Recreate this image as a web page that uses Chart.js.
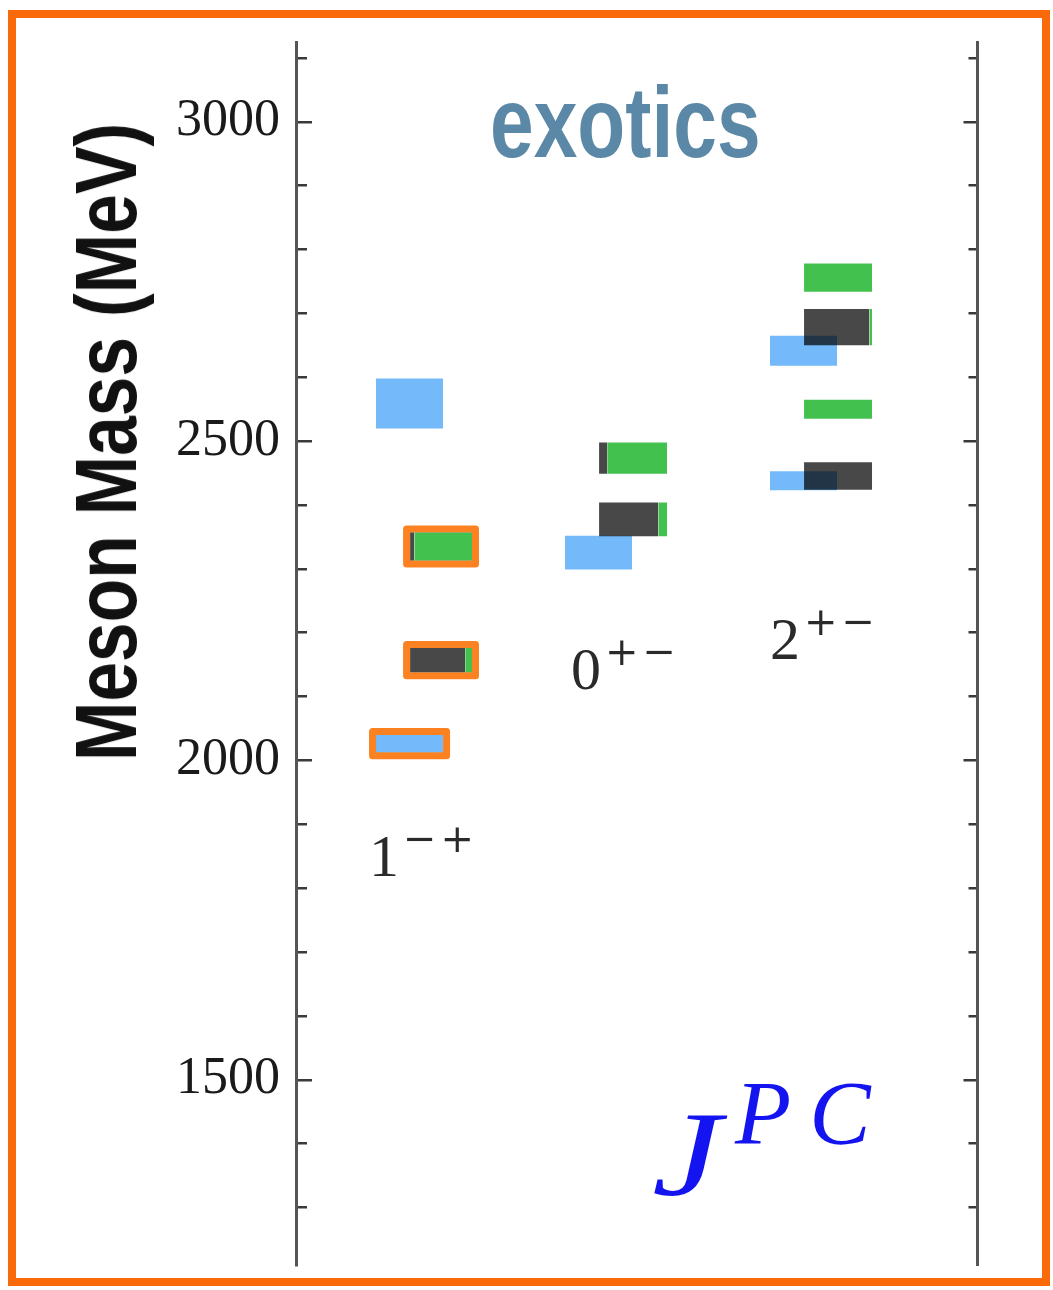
<!DOCTYPE html>
<html>
<head>
<meta charset="utf-8">
<script src="https://cdn.jsdelivr.net/npm/chart.js@4.4.1/dist/chart.umd.min.js"></script>
<style>
    html, body { margin: 0; padding: 0; background: #ffffff; }
    #wrap { position: relative; width: 1053px; height: 1290px; overflow: hidden; background: #ffffff; }
    #chart { position: absolute; left: 0; top: 0; }
    .frame { position: absolute; left: 8px; top: 10px; width: 1026px; height: 1260px; border: 8px solid #fa6a0a; }
    .txt { position: absolute; line-height: 1; white-space: nowrap; }
    .axis-title { left: 106px; top: 442px; font: bold 87px "Liberation Sans", Arial, sans-serif; color: #111;
                  transform: translate(-50%, -50%) rotate(-90deg) scaleX(0.82); }
    .exotics { left: 490px; top: 65px; font: bold 100px "Liberation Sans", Arial, sans-serif; color: #5b88a6;
               transform: scaleX(0.785); transform-origin: left top; }
    .jpc-col { font: 60px "Liberation Serif", "Times New Roman", serif; color: #2a2a2a; }
    .jpc-col .sup { position: relative; top: -24px; font: 40px "DejaVu Serif", serif; letter-spacing: 4px; margin-left: 4px; }
    .jpc-j { left: 652px; top: 1086px; font: italic 120px "Liberation Serif", "Times New Roman", serif; color: #1414f0;
             transform: scaleX(1.3); transform-origin: left top; }
    .jpc-pc { left: 735px; top: 1060px; font: italic 92px "Liberation Serif", "Times New Roman", serif; color: #1414f0; letter-spacing: 18px; }
</style>
</head>
<body>
<div id="wrap">
    <div class="frame"></div>
    <canvas id="chart" width="1053" height="1290"></canvas>
    <div class="txt axis-title">Meson Mass (MeV)</div>
    <div class="txt exotics">exotics</div>
    <div class="txt jpc-col" style="left:369px; top:822px">1<span class="sup">−+</span></div>
    <div class="txt jpc-col" style="left:571px; top:635px">0<span class="sup">+−</span></div>
    <div class="txt jpc-col" style="left:770px; top:605px">2<span class="sup">+−</span></div>
    <div class="txt jpc-j">J</div>
    <div class="txt jpc-pc">PC</div>
</div>
<script>
// Data -----------------------------------------------------------------------------------

// J^PC columns, left to right
const jpcColumns = ['1−+', '0+−', '2+−'];

// isovector states (light blue boxes), mass band in MeV
const isovectorColumn = [0, 0, 1, 2, 2];
const isovectorLow    = [2520, 2013, 2299, 2618, 2423];
const isovectorHigh   = [2598, 2040, 2352, 2665, 2453];
const isovectorMarked = [false, true, false, false, false];

// isoscalar states, box split into strange (dark) and light (green) content
const isoscalarColumn  = [0, 0, 1, 1, 2, 2, 2, 2];
const isoscalarLow     = [2313, 2138, 2449, 2351, 2734, 2650, 2535, 2424];
const isoscalarHigh    = [2357, 2176, 2498, 2404, 2778, 2707, 2565, 2467];
const isoscalarStrange = [0.07, 0.89, 0.12, 0.87, 0.0, 0.96, 0.0, 1.0];
const isoscalarMarked  = [true, true, false, false, false, false, false, false];

// mass axis
const MASS_MIN = 1210;
const MASS_MAX = 3125;
const MASS_STEP = 100;
const MASS_LABEL_STEP = 500;

// Layout ---------------------------------------------------------------------------------

const CANVAS_W = 1053;
const CANVAS_H = 1290;
const AREA_LEFT = 296;
const AREA_TOP = 42;
const AREA_RIGHT = 977;
const AREA_BOTTOM = 1265;

const X_MIN = 0;
const X_MAX = 10;
const COLUMN_LEFT = [1.175, 3.95, 6.96];
const ISOVECTOR_WIDTH = 0.985;
const ISOSCALAR_OFFSET = 0.5;
const ISOSCALAR_WIDTH = [0.91, 1.0, 1.0];

const OUTLINE_PAD_X = 0.051;
const OUTLINE_PAD_Y = 5.5;

const MAJOR_TICK = 14;
const MINOR_TICK = 9;

// Colours --------------------------------------------------------------------------------

const BLUE = '#74b9f9';
const GREEN = '#43c14f';
const DARK = '#484848';
const OUTLINE = '#fb8121';
const AXIS = '#555555';
const TICK = '#3a3a3a';

// Dataset builders -----------------------------------------------------------------------

let boxPiece = function (x0, x1, lo, hi, color) {
    return {
        type: 'line',
        data: [{x: x0, y: hi}, {x: x1, y: hi}],
        borderColor: 'rgba(0,0,0,0)',
        borderWidth: 0,
        pointRadius: 0,
        backgroundColor: color,
        fill: {value: lo},
        xAxisID: 'x',
        yAxisID: 'y'
    };
};

let outlineBox = function (x0, x1, lo, hi) {
    let l = x0 - OUTLINE_PAD_X, r = x1 + OUTLINE_PAD_X;
    let b = lo - OUTLINE_PAD_Y, t = hi + OUTLINE_PAD_Y;
    return {
        type: 'line',
        data: [{x: l, y: t}, {x: r, y: t}, {x: r, y: b}, {x: l, y: b}, {x: l, y: t}],
        borderColor: OUTLINE,
        borderWidth: 7,
        borderJoinStyle: 'round',
        borderCapStyle: 'round',
        pointRadius: 0,
        fill: false,
        xAxisID: 'x',
        yAxisID: 'y'
    };
};

let buildDatasets = function () {
    let outlines = [];
    let pieces = [];

    isovectorLow.forEach(function (lo, i) {
        let x0 = COLUMN_LEFT[isovectorColumn[i]];
        let x1 = x0 + ISOVECTOR_WIDTH;
        pieces.push(boxPiece(x0, x1, lo, isovectorHigh[i], BLUE));
        if (isovectorMarked[i]) {
            outlines.push(outlineBox(x0, x1, lo, isovectorHigh[i]));
        }
    });

    isoscalarLow.forEach(function (lo, i) {
        let c = isoscalarColumn[i];
        let x0 = COLUMN_LEFT[c] + ISOSCALAR_OFFSET;
        let w = ISOSCALAR_WIDTH[c];
        let split = x0 + w * isoscalarStrange[i];
        let hi = isoscalarHigh[i];
        if (isoscalarStrange[i] > 0) {
            pieces.push(boxPiece(x0, split, lo, hi, DARK));
        }
        if (isoscalarStrange[i] < 1) {
            pieces.push(boxPiece(split, x0 + w, lo, hi, GREEN));
        }
        if (isoscalarMarked[i]) {
            outlines.push(outlineBox(x0, x0 + w, lo, hi));
        }
    });

    return outlines.concat(pieces);
};

// inward tick marks on both frame sides, drawn as a dashed grid line
let tickDash = function (ctx) {
    if (!ctx.tick) {
        return [];
    }
    let area = ctx.chart.chartArea;
    let span = area.right - area.left - 1.5;
    let len = ctx.tick.value % MASS_LABEL_STEP === 0 ? MAJOR_TICK : MINOR_TICK;
    return [len, span - 2 * len, len];
};

// overlapping boxes darken each other like in the original figure
const multiplyPlugin = {
    id: 'multiplyBoxes',
    beforeDatasetsDraw: function (chart) {
        chart.ctx.save();
        chart.ctx.globalCompositeOperation = 'multiply';
    },
    afterDatasetsDraw: function (chart) {
        chart.ctx.restore();
    }
};

// Chart ----------------------------------------------------------------------------------

new Chart(document.getElementById('chart').getContext('2d'), {
    type: 'line',
    data: {datasets: buildDatasets()},
    options: {
        responsive: false,
        animation: false,
        events: [],
        layout: {
            padding: {
                left: 0,
                top: AREA_TOP,
                right: CANVAS_W - AREA_RIGHT,
                bottom: CANVAS_H - AREA_BOTTOM
            }
        },
        plugins: {
            legend: {display: false},
            tooltip: {enabled: false}
        },
        scales: {
            x: {
                type: 'linear',
                min: X_MIN,
                max: X_MAX,
                display: false
            },
            y: {
                type: 'linear',
                position: 'left',
                min: MASS_MIN,
                max: MASS_MAX,
                afterFit: function (scale) {
                    scale.width = AREA_LEFT;
                    scale.paddingTop = 0;
                    scale.paddingBottom = 0;
                },
                ticks: {
                    stepSize: MASS_STEP,
                    includeBounds: false,
                    autoSkip: false,
                    maxTicksLimit: 100,
                    padding: 16,
                    color: '#1a1a1a',
                    font: {family: '"Liberation Serif", "Times New Roman", serif', size: 52},
                    callback: function (v) { return v % MASS_LABEL_STEP === 0 ? String(v) : ''; }
                },
                grid: {
                    drawTicks: false,
                    lineWidth: 2.5,
                    color: function (ctx) {
                        return ctx.tick && ctx.tick.value % MASS_STEP === 0 ? TICK : 'rgba(0,0,0,0)';
                    }
                },
                border: {display: true, color: AXIS, width: 3, dash: tickDash}
            },
            yRight: {
                type: 'linear',
                position: 'right',
                min: MASS_MIN,
                max: MASS_MAX,
                afterFit: function (scale) {
                    scale.width = 0;
                    scale.paddingTop = 0;
                    scale.paddingBottom = 0;
                },
                ticks: {display: false},
                grid: {drawTicks: false, color: 'rgba(0,0,0,0)'},
                border: {display: true, color: AXIS, width: 3}
            }
        }
    },
    plugins: [multiplyPlugin]
});
</script>
</body>
</html>
